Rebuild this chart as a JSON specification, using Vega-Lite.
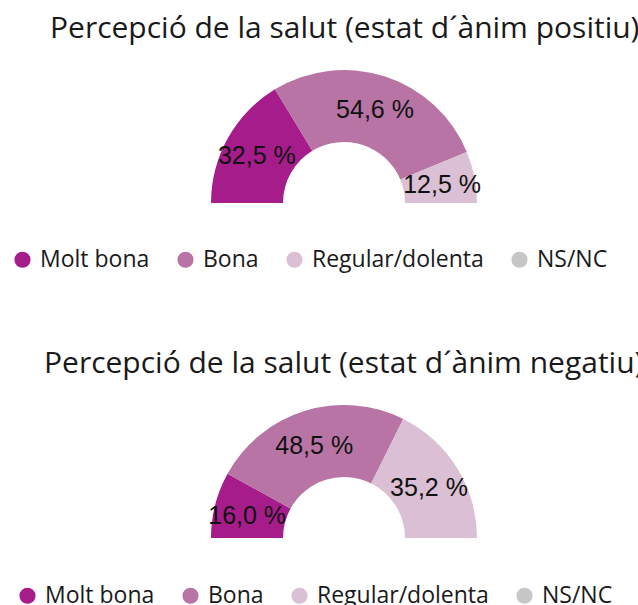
{
  "$schema": "https://vega.github.io/schema/vega-lite/v6.json",
  "padding": {"left": 11, "top": 14, "right": 0, "bottom": 0},
  "spacing": 77,
  "datasets": {
    "positiu": [
      {"categoria": "Molt bona", "ordre": 1, "valor": 32.5, "etiqueta": "32,5 %"},
      {"categoria": "Bona", "ordre": 2, "valor": 54.6, "etiqueta": "54,6 %"},
      {"categoria": "Regular/dolenta", "ordre": 3, "valor": 12.5, "etiqueta": "12,5 %"}
    ],
    "negatiu": [
      {"categoria": "Molt bona", "ordre": 1, "valor": 16.0, "etiqueta": "16,0 %"},
      {"categoria": "Bona", "ordre": 2, "valor": 48.5, "etiqueta": "48,5 %"},
      {"categoria": "Regular/dolenta", "ordre": 3, "valor": 35.2, "etiqueta": "35,2 %"}
    ]
  },
  "config": {
    "view": {"stroke": null},
    "title": {"font": "Open Sans", "fontSize": 30, "fontWeight": "normal", "color": "#1a1a1a", "anchor": "start", "frame": "group", "offset": 26},
    "legend": {
      "labelFont": "Open Sans", "labelFontSize": 23, "labelColor": "#1a1a1a",
      "symbolType": "circle", "symbolSize": 260, "symbolStrokeWidth": 0,
      "labelOffset": 6, "columnPadding": 24, "padding": 0, "labelLimit": 300
    }
  },
  "vconcat": [
    {
      "title": {"text": "Percepció de la salut (estat d´ànim positiu)"},
      "width": 588,
      "height": 133,
      "data": {"name": "positiu"},
      "encoding": {
        "theta": {"field": "valor", "type": "quantitative", "stack": true, "scale": {"range": [-1.5708, 1.5708]}},
        "order": {"field": "ordre", "type": "quantitative"},
        "color": {
          "field": "categoria", "type": "nominal",
          "scale": {"domain": ["Molt bona", "Bona", "Regular/dolenta", "NS/NC"], "range": ["#a51c8a", "#b874a5", "#dbbfd4", "#c6c6c6"]},
          "legend": {"title": null, "orient": "none", "direction": "horizontal", "legendX": -39, "legendY": 178}
        }
      },
      "layer": [
        {"mark": {"type": "arc", "y": "height", "radius": 133, "radius2": 61}},
        {"mark": {"type": "text", "y": "height", "radius": 100, "dy": 2, "font": "Liberation Sans", "fontSize": 25},
         "encoding": {"text": {"field": "etiqueta"}, "color": {"value": "#111111"}}}
      ]
    },
    {
      "title": {"text": "Percepció de la salut (estat d´ànim negatiu)", "dx": -6},
      "width": 588,
      "height": 133,
      "data": {"name": "negatiu"},
      "encoding": {
        "theta": {"field": "valor", "type": "quantitative", "stack": true, "scale": {"range": [-1.5708, 1.5708]}},
        "order": {"field": "ordre", "type": "quantitative"},
        "color": {
          "field": "categoria", "type": "nominal",
          "scale": {"domain": ["Molt bona", "Bona", "Regular/dolenta", "NS/NC"], "range": ["#a51c8a", "#b874a5", "#dbbfd4", "#c6c6c6"]},
          "legend": {"title": null, "orient": "none", "direction": "horizontal", "legendX": -34, "legendY": 179}
        }
      },
      "layer": [
        {"mark": {"type": "arc", "y": "height", "radius": 133, "radius2": 61}},
        {"mark": {"type": "text", "y": "height", "radius": 100, "dy": 3, "font": "Liberation Sans", "fontSize": 25},
         "encoding": {"text": {"field": "etiqueta"}, "color": {"value": "#111111"}}}
      ]
    }
  ],
  "resolve": {"scale": {"theta": "independent", "color": "independent"}, "legend": {"color": "independent"}}
}
